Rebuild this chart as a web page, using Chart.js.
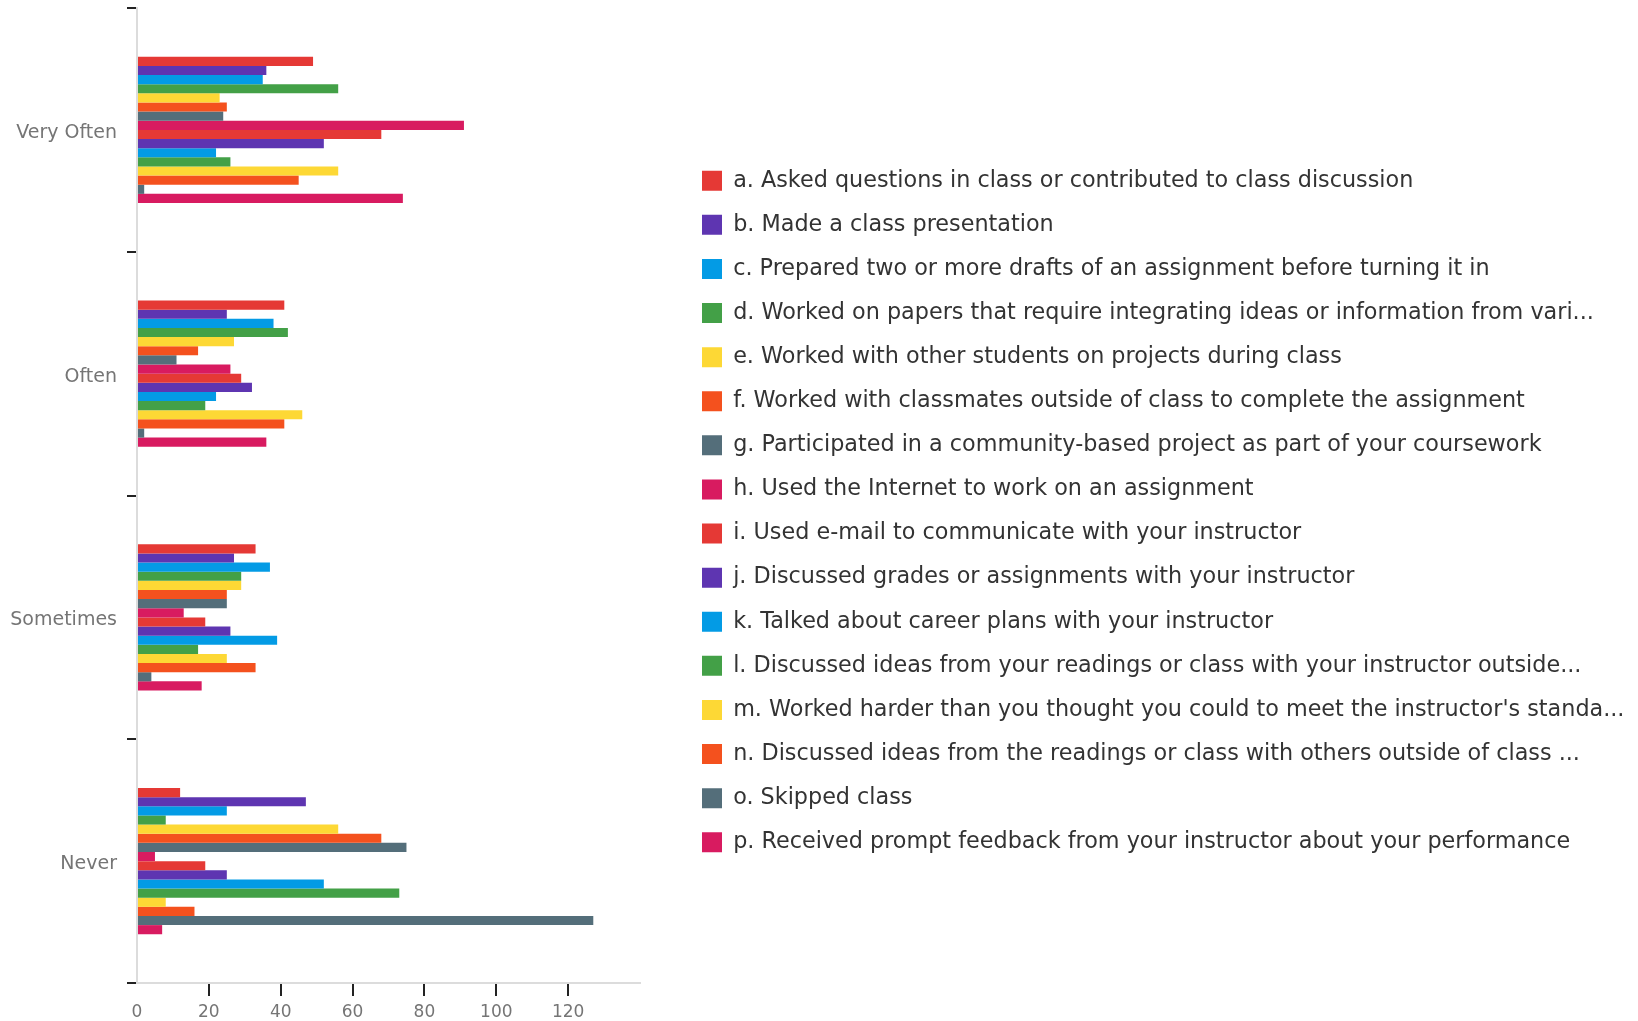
<!DOCTYPE html>
<html>
<head>
<meta charset="utf-8">
<script src="https://cdn.jsdelivr.net/npm/chart.js@4.4.1/dist/chart.umd.min.js"></script>
<style>
  html, body { margin: 0; padding: 0; background: #fff; }
  #wrap { width: 1638px; height: 1021px; position: relative; }
</style>
</head>
<body>
<div id="wrap"><canvas id="chart"></canvas></div>
<script>
// Response categories (y axis, top to bottom)
const categories = ['Very Often', 'Often', 'Sometimes', 'Never'];

// Survey items (one dataset each)
const items = [
    'a. Asked questions in class or contributed to class discussion',
    'b. Made a class presentation',
    'c. Prepared two or more drafts of an assignment before turning it in',
    'd. Worked on papers that require integrating ideas or information from vari...',
    'e. Worked with other students on projects during class',
    'f. Worked with classmates outside of class to complete the assignment',
    'g. Participated in a community-based project as part of your coursework',
    'h. Used the Internet to work on an assignment',
    'i. Used e-mail to communicate with your instructor',
    'j. Discussed grades or assignments with your instructor',
    'k. Talked about career plans with your instructor',
    'l. Discussed ideas from your readings or class with your instructor outside...',
    "m. Worked harder than you thought you could to meet the instructor's standa...",
    'n. Discussed ideas from the readings or class with others outside of class ...',
    'o. Skipped class',
    'p. Received prompt feedback from your instructor about your performance'
];

// Counts per category, in item order a..p
const veryOften = [49, 36, 35, 56, 23, 25, 24, 91, 68, 52, 22, 26, 56, 45, 2, 74];
const often     = [41, 25, 38, 42, 27, 17, 11, 26, 29, 32, 22, 19, 46, 41, 2, 36];
const sometimes = [33, 27, 37, 29, 29, 25, 25, 13, 19, 26, 39, 17, 25, 33, 4, 18];
const never     = [12, 47, 25, 8, 56, 68, 75, 5, 19, 25, 52, 73, 8, 16, 127, 7];

const palette = ['#e53935', '#5e35b1', '#039be5', '#43a047', '#fdd835', '#f4511e', '#546e7a', '#d81b60'];

const datasets = items.map((label, i) => ({
    label: label,
    data: [veryOften[i], often[i], sometimes[i], never[i]],
    backgroundColor: palette[i % palette.length],
    borderWidth: 0
}));

// keep the plot area and legend where the original has them
const legendPlacer = {
    id: 'legendPlacer',
    beforeLayout(chart) {
        const legend = chart.legend;
        if (legend && !legend._fixedFit) {
            const fit = legend.fit;
            legend.fit = function () {
                fit.call(this);
                this.width = chart.width - 640;
            };
            legend._fixedFit = true;
        }
    },
    afterLayout(chart) {
        const legend = chart.legend;
        legend.left = 702 - legend.options.labels.padding;
        legend.top -= 3;
        legend.bottom -= 3;
    }
};

const font = 'DejaVu Sans';

new Chart(document.getElementById('chart'), {
    type: 'bar',
    data: { labels: categories, datasets: datasets },
    plugins: [legendPlacer],
    options: {
        indexAxis: 'y',
        responsive: true,
        maintainAspectRatio: false,
        animation: false,
        layout: { padding: { top: 8 } },
        datasets: { bar: { categoryPercentage: 0.6, barPercentage: 1.0 } },
        plugins: {
            legend: {
                position: 'right',
                labels: {
                    boxWidth: 20,
                    boxHeight: 20,
                    padding: 21.8,
                    color: '#333',
                    font: { family: font, size: 22.3 }
                }
            },
            tooltip: { enabled: false }
        },
        scales: {
            x: {
                min: 0,
                max: 140,
                ticks: {
                    stepSize: 20,
                    padding: 6,
                    color: '#757575',
                    font: { family: font, size: 17 },
                    callback: v => (v === 140 ? '' : v)
                },
                grid: {
                    drawOnChartArea: false,
                    tickLength: 13,
                    lineWidth: 2,
                    color: c => (c.tick && (c.tick.value === 0 || c.tick.value === 140) ? 'rgba(0,0,0,0)' : '#222')
                },
                border: { color: '#dcdcdc', width: 2 },
                afterFit(scale) { scale.height = 38; }
            },
            y: {
                ticks: {
                    padding: 10,
                    labelOffset: 3,
                    color: '#757575',
                    font: { family: font, size: 19 }
                },
                grid: {
                    drawOnChartArea: false,
                    tickLength: 10,
                    lineWidth: 2,
                    color: c => (c.index === categories.length ? 'rgba(0,0,0,0)' : '#222')
                },
                border: { color: '#dcdcdc', width: 2 },
                afterFit(scale) {
                    scale.width = 137;
                    scale.paddingTop = 0;
                    scale.paddingBottom = 0;
                }
            }
        }
    }
});
</script>
</body>
</html>
